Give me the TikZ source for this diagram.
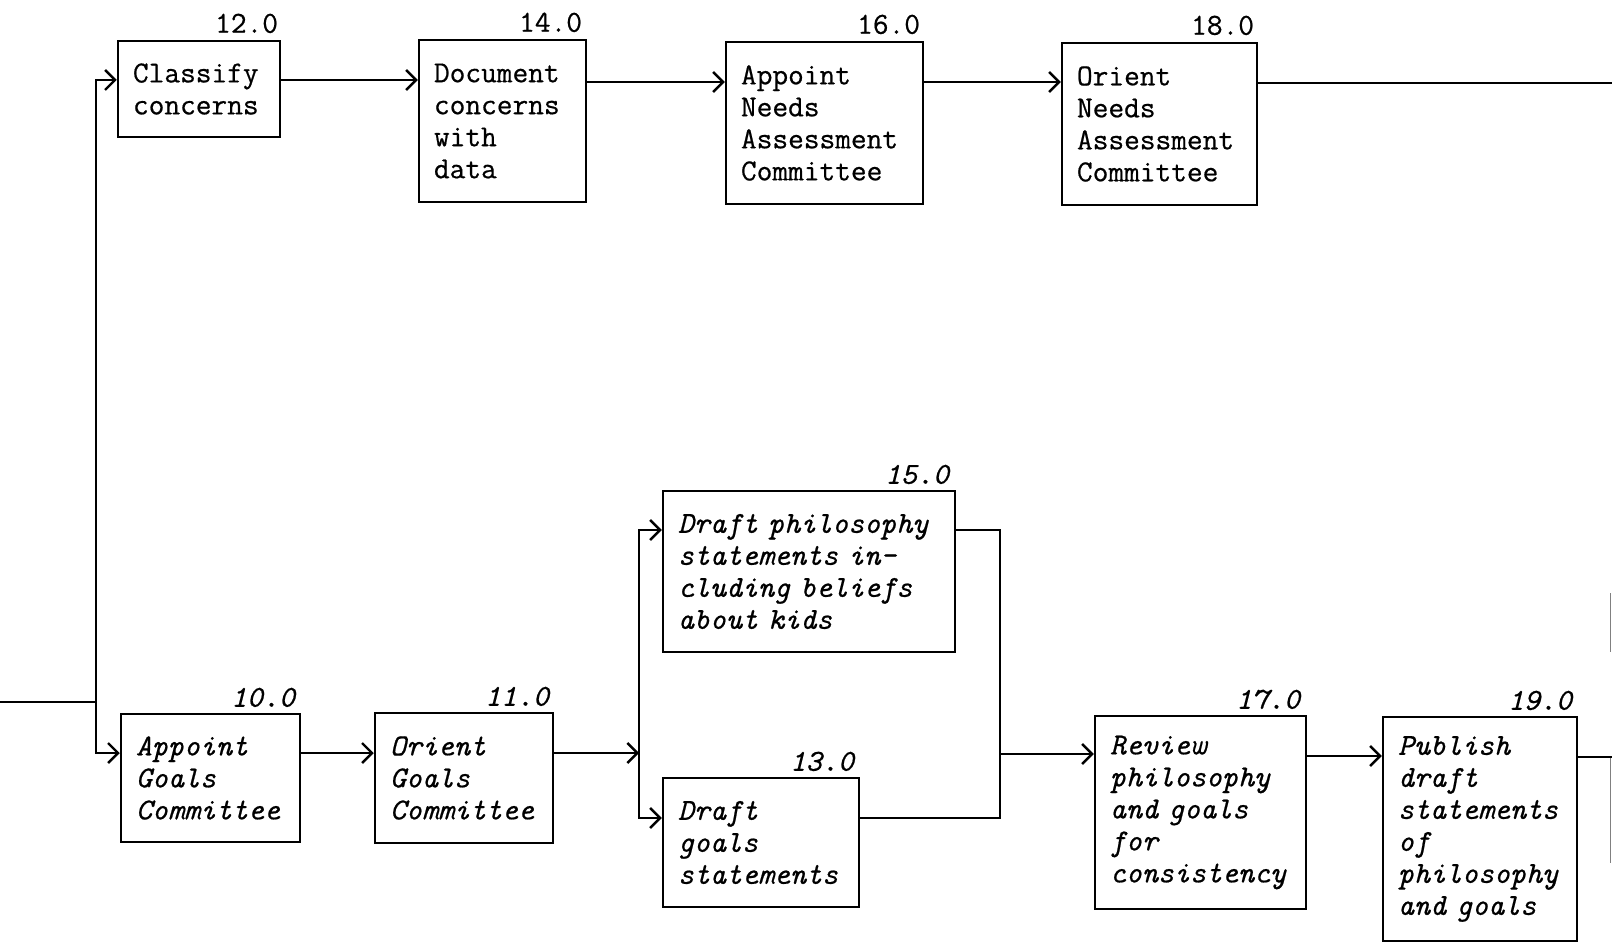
\documentclass[tikz,border=0pt]{standalone}
\usepackage{fontspec}
\setmonofont[FakeBold=0.6]{Latin Modern Mono}
\usetikzlibrary{arrows.meta}
\begin{document}
\begin{tikzpicture}[x=1pt,y=-1pt, line width=2.5pt, line join=miter,
 box/.style={draw, rectangle, inner xsep=15pt, inner ysep=0pt, align=left,
   font=\ttfamily\fontsize{30.5}{32}\selectfont},
 ibox/.style={box, font=\ttfamily\itshape\fontsize{30.5}{32}\selectfont},
 num/.style={anchor=base east, inner sep=0pt, font=\ttfamily\fontsize{30.5}{32}\selectfont},
 inum/.style={num, font=\ttfamily\itshape\fontsize{30.5}{32}\selectfont},
 arr/.style={-{Straight Barb[length=10pt,width=20pt,line width=2.4pt]}},
 frag/.style={draw=gray, line width=1.8pt}
 ]
\useasboundingbox (0,0) rectangle (1612,952);

% top row
\node[box, text width=132pt, minimum height=96pt] (cls) at (199,89) {Classify\\concerns};
\node[box, text width=137pt, minimum height=162pt] (doc) at (502.5,121) {Document\\concerns\\with\\data};
\node[box, text width=167pt, minimum height=162pt] (anc) at (824.5,123) {Appoint\\Needs\\Assessment\\Committee};
\node[box, text width=165pt, minimum height=162pt] (onc) at (1159.5,124) {Orient\\Needs\\Assessment\\Committee};

\node[num] (n12) at ([xshift=-2pt,yshift=7pt]cls.north east) {12.0};
\node[num] (n14) at ([xshift=-4pt,yshift=7pt]doc.north east) {14.0};
\node[num] (n16) at ([xshift=-3pt,yshift=7pt]anc.north east) {16.0};
\node[num] (n18) at ([xshift=-3pt,yshift=7pt]onc.north east) {18.0};

% bottom row
\node[ibox, text width=149pt, minimum height=128pt] (agc) at (210.5,778) {Appoint\\Goals\\Committee};
\node[ibox, text width=148pt, minimum height=130pt] (ogc) at (464,778) {Orient\\Goals\\Committee};
\node[ibox, text width=262pt, minimum height=161pt] (dph) at (809,571.5) {Draft philosophy\\statements in-\\cluding beliefs\\about kids};
\node[ibox, text width=166pt, minimum height=129pt] (dgs) at (761,842.5) {Draft\\goals\\statements};
\node[ibox, text width=181pt, minimum height=193pt] (rev) at (1200.5,812.5) {Review\\philosophy\\and goals\\for\\consistency};
\node[ibox, text width=164pt, minimum height=224pt] (pub) at (1480,829) {Publish\\draft\\statements\\of\\philosophy\\and goals};

\node[inum] (n10) at ([xshift=-5pt,yshift=6pt]agc.north east) {10.0};
\node[inum] (n11) at ([xshift=-4pt,yshift=6pt]ogc.north east) {11.0};
\node[inum] (n15) at ([xshift=-6pt,yshift=6pt]dph.north east) {15.0};
\node[inum] (n13) at ([xshift=-5pt,yshift=6pt]dgs.north east) {13.0};
\node[inum] (n17) at ([xshift=-6pt,yshift=6pt]rev.north east) {17.0};
\node[inum] (n19) at ([xshift=-5pt,yshift=6pt]pub.north east) {19.0};

% left feed
\coordinate (L0) at (0,702);
\coordinate (J0) at (96,702);
\coordinate (T) at (96,80);
\coordinate (B) at (96,753);
\draw (L0) -- (J0);
\draw[arr] (J0) -- (T) -- (cls.west |- T);
\draw[arr] (J0) -- (B) -- (agc.west |- B);

% top connectors
\coordinate (T2) at (0,82);
\coordinate (R1) at (1612,83);
\draw[arr] (cls.east |- T) -- (doc.west |- T);
\draw[arr] (doc.east |- T2) -- (anc.west |- T2);
\draw[arr] (anc.east |- T2) -- (onc.west |- T2);
\draw (onc.east |- R1) -- (R1);

% bottom connectors
\coordinate (M) at (0,753);
\coordinate (S) at (639,753);
\coordinate (S1) at (639,530);
\coordinate (S2) at (639,818);
\draw[arr] (agc.east |- M) -- (ogc.west |- M);
\draw[arr] (ogc.east |- M) -- (S);
\draw[arr] (S) -- (S1) -- (dph.west |- S1);
\draw[arr] (S) -- (S2) -- (dgs.west |- S2);

\coordinate (Q1) at (1000,530);
\coordinate (Q2) at (1000,818);
\coordinate (Q) at (1000,754);
\draw (dph.east |- Q1) -- (Q1) -- (Q2) -- (dgs.east |- Q2);
\draw[arr] (Q) -- (rev.west |- Q);
\coordinate (P) at (0,756);
\draw[arr] (rev.east |- P) -- (pub.west |- P);
\coordinate (R2) at (1612,757);
\draw (pub.east |- R2) -- (R2);

% cut-off fragments at right edge
\draw[frag] (1610.5,593) -- (1610.5,652);
\draw[frag] (1610.5,758) -- (1610.5,863);
\end{tikzpicture}
\end{document}
